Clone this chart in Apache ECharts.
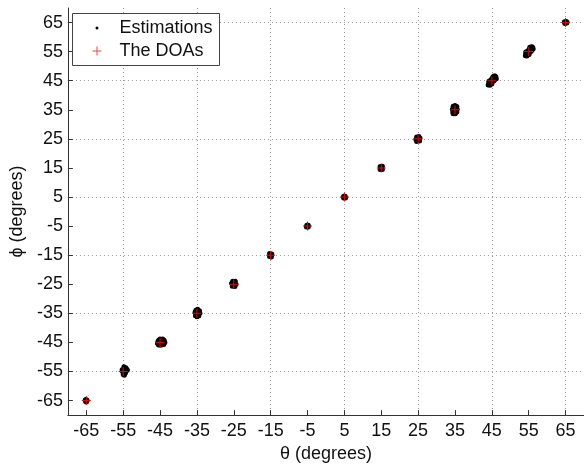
<!DOCTYPE html>
<html>
<head>
<meta charset="utf-8">
<script src="https://cdn.jsdelivr.net/npm/echarts@6/dist/echarts.min.js"></script>
<style>
html,body{margin:0;padding:0;background:#fff;}
#chart{width:584px;height:468px;}
</style>
</head>
<body>
<div id="chart"></div>
<script>
// True directions of arrival (degrees)
const thetaDOA = [-65,-55,-45,-35,-25,-15,-5,5,15,25,35,45,55,65];
const phiDOA   = [-65,-55,-45,-35,-25,-15,-5,5,15,25,35,45,55,65];
// Axis tick labels
const xTicks = [-65,-55,-45,-35,-25,-15,-5,5,15,25,35,45,55,65];
const yTicks = [-65,-55,-45,-35,-25,-15,-5,5,15,25,35,45,55,65];
// Estimated (theta, phi) pairs, read off the picture cluster by cluster
const estM65 = [[-65.2,-65.3],[-64.8,-64.9],[-65.0,-65.5],[-65.3,-64.8],[-64.9,-65.2],[-65.1,-64.6]];
const estM55 = [[-54.8,-53.4],[-54.3,-53.7],[-54.0,-54.2],[-54.6,-54.0],[-55.0,-54.5],[-54.3,-54.9],[-54.9,-55.3],[-55.2,-55.0],[-54.6,-55.6],[-55.0,-56.0],[-54.7,-56.3],[-54.4,-55.5],[-53.9,-54.6],[-55.3,-54.4]];
const estM45 = [[-45.7,-45.4],[-45.4,-44.3],[-45.0,-43.8],[-44.3,-43.8],[-43.9,-44.3],[-43.7,-45.0],[-44.0,-45.7],[-44.8,-46.0],[-45.4,-45.9],[-44.6,-45.0],[-45.1,-44.9],[-44.2,-44.6],[-45.6,-44.8],[-44.5,-44.1],[-44.9,-45.6]];
const estM35 = [[-35.4,-35.8],[-35.0,-36.2],[-34.5,-35.9],[-34.2,-35.0],[-34.3,-34.1],[-34.8,-33.6],[-35.3,-33.9],[-35.5,-34.6],[-34.8,-34.8],[-35.1,-35.3],[-34.5,-35.2],[-34.9,-34.2]];
const estM25 = [[-25.4,-25.7],[-24.7,-25.8],[-24.4,-25.0],[-24.6,-24.0],[-25.3,-24.0],[-25.6,-24.7],[-25.0,-25.0],[-24.9,-24.4],[-25.2,-25.4]];
const estM15 = [[-15.3,-15.5],[-14.8,-15.6],[-14.7,-14.6],[-15.3,-14.4],[-15.0,-15.0],[-14.8,-14.9]];
const estM5  = [[-5.3,-5.3],[-4.8,-5.3],[-4.8,-4.7],[-5.2,-4.7],[-5.0,-5.0]];
const estP5  = [[4.8,4.7],[5.3,4.7],[5.2,5.3],[4.8,5.3],[5.0,5.0]];
const estP15 = [[14.7,14.5],[15.3,14.5],[15.3,15.6],[14.7,15.5],[15.0,15.0],[15.1,14.8]];
const estP25 = [[24.6,24.1],[25.4,24.3],[25.5,25.3],[25.2,25.8],[24.6,25.6],[24.4,24.8],[25.0,25.0],[24.9,24.4],[25.1,25.4]];
const estP35 = [[34.5,33.6],[35.1,33.6],[35.5,34.2],[35.6,35.2],[35.5,36.1],[35.0,36.5],[34.5,36.2],[34.3,35.2],[34.4,34.2],[34.9,35.0],[35.1,34.6],[34.8,35.6]];
const estP45 = [[45.6,46.6],[46.1,46.3],[46.2,45.7],[45.9,45.6],[45.2,46.0],[44.8,45.4],[45.3,44.8],[44.5,44.6],[44.1,43.9],[44.0,43.5],[44.5,43.4],[45.0,43.9],[45.6,45.0],[44.2,44.8],[45.9,46.6],[44.6,43.9],[45.5,46.3],[45.0,45.0],
                [45.4,45.6],[44.7,44.3],[45.8,46.1],[44.4,44.0],[45.1,45.4],[44.9,44.6],[45.7,45.4],[44.3,44.3],[45.3,46.4],[44.6,45.0]];
const estP55 = [[55.6,56.6],[56.1,56.4],[56.2,55.9],[55.9,55.7],[55.3,56.1],[54.9,55.5],[55.4,54.9],[54.5,54.7],[54.2,54.1],[54.1,53.6],[54.5,53.5],[55.1,54.0],[55.7,55.1],[54.2,54.9],[55.9,56.7],[54.7,53.9],[55.5,56.4],[55.0,55.0],
                [55.4,55.6],[54.7,54.3],[55.8,56.1],[54.4,54.1],[55.1,55.4],[54.9,54.6],[55.7,55.5],[54.3,54.4],[55.3,56.5],[54.6,55.0]];
const estP65 = [[64.8,64.7],[65.3,64.8],[65.2,65.4],[64.7,65.3],[65.0,65.0],[65.4,65.1]];

const estimations = [].concat(estM65, estM55, estM45, estM35, estM25, estM15, estM5,
                              estP5, estP15, estP25, estP35, estP45, estP55, estP65);
const doas = thetaDOA.map((t, i) => [t, phiDOA[i]]);

const plusPath = 'path://M4,0h1v4h4v1h-4v4h-1v-4h-4v-1h4z';
const FONT = '"Liberation Sans", Arial, Helvetica, sans-serif';

const chart = echarts.init(document.getElementById('chart'), null, {renderer: 'canvas'});
const axisCommon = {
  type: 'value', min: -70, max: 70, interval: 5,
  axisLine: {show: true, onZero: false, lineStyle: {color: '#333', width: 1}},
  axisTick: {show: true, inside: true, length: 5, lineStyle: {color: '#333'}},
  splitLine: {show: true, lineStyle: {type: [1, 3], color: ['rgba(0,0,0,0)', '#999'], width: 1}},
  nameTextStyle: {fontFamily: FONT, fontSize: 18, color: '#111'},
};
chart.setOption({
  animation: false,
  backgroundColor: '#ffffff',
  grid: {left: 67, top: 8, width: 526, height: 414, containLabel: false},
  xAxis: Object.assign({}, axisCommon, {
    name: 'θ (degrees)', nameLocation: 'middle', nameGap: 23,
    axisTick: Object.assign({}, axisCommon.axisTick, {customValues: xTicks}),
    axisLabel: {customValues: xTicks, fontFamily: FONT, fontSize: 18, color: '#111', margin: 7}
  }),
  yAxis: Object.assign({}, axisCommon, {
    name: 'ϕ (degrees)', nameLocation: 'middle', nameGap: 35,
    axisTick: Object.assign({}, axisCommon.axisTick, {customValues: yTicks}),
    axisLabel: {customValues: yTicks, fontFamily: FONT, fontSize: 18, color: '#111', margin: 5}
  }),
  graphic: [{
    type: 'rect', z: 50,
    shape: {x: 72.5, y: 13.5, width: 147, height: 52},
    style: {fill: '#fff', stroke: '#444', lineWidth: 1}
  }],
  legend: [{
    data: [{name: 'Estimations', icon: 'circle'}],
    left: 95.5, top: 19, padding: 0, itemWidth: 3, itemHeight: 3, z: 60,
    textStyle: {fontFamily: FONT, fontSize: 18, color: '#111', padding: [0, 0, 0, 16]}
  }, {
    data: [{name: 'The DOAs', icon: plusPath}],
    left: 92.5, top: 42, padding: 0, itemWidth: 9, itemHeight: 9, z: 60,
    itemStyle: {color: '#e84848'},
    textStyle: {fontFamily: FONT, fontSize: 18, color: '#111', padding: [0, 0, 0, 13]}
  }],
  series: [{
    name: 'Estimations', type: 'scatter', data: estimations,
    symbol: 'circle', symbolSize: 5,
    itemStyle: {color: '#0a0000', opacity: 1}
  }, {
    name: 'The DOAs', type: 'scatter', data: doas,
    symbol: plusPath, symbolSize: 9,
    itemStyle: {color: '#cc1111', opacity: 1}
  }]
});
</script>
</body>
</html>
